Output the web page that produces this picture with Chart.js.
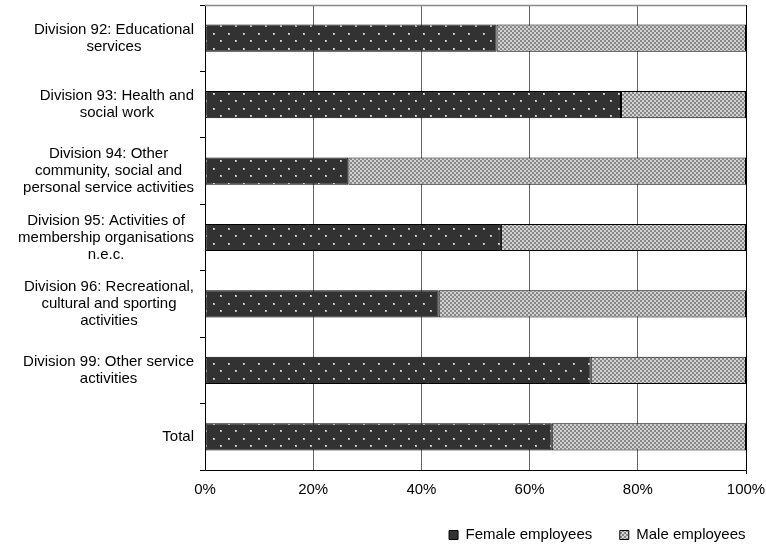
<!DOCTYPE html>
<html><head><meta charset="utf-8">
<script src="https://cdn.jsdelivr.net/npm/chart.js@4/dist/chart.umd.min.js"></script>
<style>html,body{margin:0;padding:0;background:#fff}</style>
</head><body>
<canvas id="c" width="766" height="546"></canvas>
<script>
const categories = [
  ["Division 92: Educational", "services"],
  ["Division 93: Health and", "social work"],
  ["Division 94: Other", "community, social and", "personal service activities"],
  ["Division 95: Activities of", "membership organisations", "n.e.c."],
  ["Division 96: Recreational,", "cultural and sporting", "activities"],
  ["Division 99: Other service", "activities"],
  ["Total"]
];
const femaleShare = [53.9, 76.9, 26.5, 54.7, 43.2, 71.3, 64.1];
const maleShare   = [46.1, 23.1, 73.5, 45.3, 56.8, 28.7, 35.9];
const xTickStep = 20;
const seriesNames = ["Female employees", "Male employees"];

const FONT = '"Liberation Sans", Arial, sans-serif';

function makeFemalePattern() {
  const c = document.createElement('canvas'); c.width = 15; c.height = 15;
  const g = c.getContext('2d');
  g.fillStyle = '#323232'; g.fillRect(0, 0, 15, 15);
  const dots = [[3,3],[10,10]];
  g.fillStyle = '#b4b4b4';
  dots.forEach(([x,y]) => g.fillRect(x,y,2,2));
  g.fillStyle = '#e6e6e6';
  dots.forEach(([x,y]) => g.fillRect(x,y,1,1));
  return g.createPattern(c, 'repeat');
}
function makeMalePattern() {
  const c = document.createElement('canvas'); c.width = 4; c.height = 4;
  const g = c.getContext('2d');
  g.fillStyle = '#d2d2d2'; g.fillRect(0, 0, 4, 4);
  g.fillStyle = '#878787'; g.fillRect(0, 0, 2, 2); g.fillRect(2, 2, 2, 2);
  return g.createPattern(c, 'repeat');
}

const yLabelPlugin = {
  id: 'yLabels',
  afterDraw(chart) {
    const s = chart.scales.y, ctx = chart.ctx;
    ctx.save();
    ctx.font = '15px ' + FONT;
    ctx.fillStyle = '#000';
    ctx.textBaseline = 'middle';
    ctx.textAlign = 'center';
    const right = s.right - 11;
    const lh = 17;
    chart.data.labels.forEach((lines, i) => {
      const yc = s.getPixelForTick(i);
      const w = Math.max(...lines.map(l => ctx.measureText(l).width));
      const cx = right - w / 2;
      lines.forEach((l, j) => ctx.fillText(l, cx, yc + (j - (lines.length - 1) / 2) * lh));
    });
    ctx.restore();
  }
};
const framePlugin = {
  id: 'frame',
  afterDatasetsDraw(chart) {
    const a = chart.chartArea, ctx = chart.ctx;
    ctx.save();
    ctx.strokeStyle = '#8a8a8a'; ctx.lineWidth = 1.5;
    ctx.beginPath(); ctx.moveTo(a.left, a.top + 0.5); ctx.lineTo(a.right, a.top + 0.5); ctx.stroke();
    ctx.restore();
  }
};

new Chart(document.getElementById('c'), {
  type: 'bar',
  data: {
    labels: categories,
    datasets: [
      { label: seriesNames[0], data: femaleShare, backgroundColor: makeFemalePattern(),
        borderColor: '#000', borderWidth: 1, borderSkipped: false,
        barPercentage: 0.41, categoryPercentage: 1 },
      { label: seriesNames[1], data: maleShare, backgroundColor: makeMalePattern(),
        borderColor: '#000', borderWidth: 1, borderSkipped: false,
        barPercentage: 0.41, categoryPercentage: 1 }
    ]
  },
  options: {
    indexAxis: 'y',
    responsive: false,
    animation: false,
    devicePixelRatio: 1,
    layout: { padding: { top: 5, bottom: -6.5, left: 0, right: -7 } },
    scales: {
      x: {
        stacked: true, min: 0, max: 100,
        ticks: { stepSize: xTickStep, callback: v => v + '%', color: '#000',
                 font: { family: FONT, size: 15 }, padding: 7, maxRotation: 0 },
        grid: { color: c => (c.tick && c.tick.value === 100) ? '#000' : '#666', lineWidth: 1,
                drawTicks: true, tickLength: 4,
                tickColor: c => (c.tick && (c.tick.value === 100)) ? '#000' : 'rgba(0,0,0,0)' },
        border: { color: '#000', width: 1 },
        afterFit: s => { s.height = 30; s.paddingRight = 20; s.paddingLeft = 0; }
      },
      y: {
        stacked: true,
        ticks: { display: false },
        grid: { drawOnChartArea: false, drawTicks: true, tickLength: 5, color: '#000', offset: true },
        border: { color: '#000', width: 1 },
        afterFit: s => { s.width = 205; }
      }
    },
    plugins: {
      legend: {
        position: 'bottom', align: 'end',
        labels: { boxWidth: 9, boxHeight: 9, padding: 27.5, color: '#000',
                  font: { family: FONT, size: 15 } }
      },
      tooltip: { enabled: false }
    }
  },
  plugins: [yLabelPlugin, framePlugin]
});
</script>
</body></html>
